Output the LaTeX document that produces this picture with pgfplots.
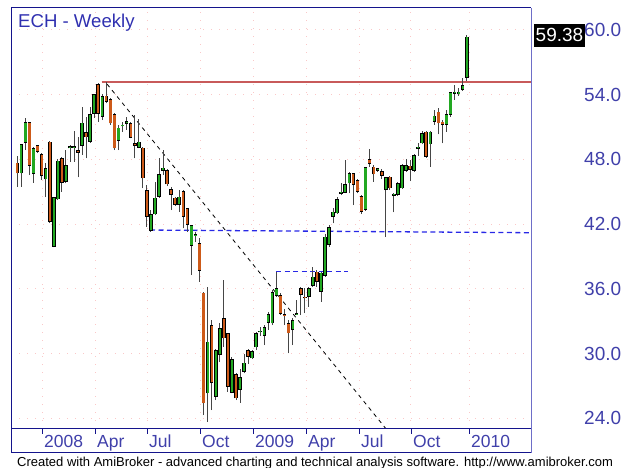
\documentclass[border=0pt]{standalone}
\usepackage{pgfplots}
\pgfplotsset{compat=1.18}
\usepackage{pgfplotstable}
\usepackage{fontspec}
\setmainfont{Liberation Sans}

\definecolor{navy}{RGB}{20,20,140}
\definecolor{lightframe}{RGB}{110,110,200}
\definecolor{labblue}{RGB}{64,64,170}
\definecolor{titleblue}{RGB}{48,48,176}
\definecolor{gridpink}{RGB}{250,200,200}
\definecolor{cgreen}{RGB}{34,168,34}
\definecolor{corange}{RGB}{205,90,25}
\definecolor{wickgray}{RGB}{70,70,70}
\definecolor{redline}{RGB}{200,90,90}
\definecolor{dashblue}{RGB}{40,40,230}

% weekly candles: k = bar index, open high low close
\pgfplotstableread{
k o h l c
2 46.71 49.43 45.46 49.43
3 49.55 51.84 48.87 51.44
5 46.64 49.18 45.84 49.03
8 46.15 47.66 44.51 47.17
10 39.90 44.54 39.84 44.48
11 44.30 48.03 44.23 47.88
13 45.93 48.87 45.78 47.48
14 49.03 49.33 47.78 49.24
15 49.06 50.66 47.78 49.20
17 49.24 52.88 48.41 51.40
19 49.64 52.88 49.55 52.21
20 52.21 54.06 51.84 54.06
22 51.96 54.06 51.65 53.88
26 49.70 51.19 48.87 50.94
27 51.07 51.49 50.57 51.22
28 51.28 51.96 50.73 51.56
31 49.08 51.72 49.03 49.64
34 41.36 43.30 41.29 42.90
35 42.90 45.87 42.84 44.44
36 44.54 48.10 44.44 46.61
37 46.92 48.87 46.55 47.23
41 43.77 45.16 43.15 44.54
44 39.99 41.91 37.27 41.91
45 40.91 41.29 40.36 41.06
48 26.30 36.19 23.67 31.09
50 25.96 30.41 25.68 30.32
51 29.85 32.82 29.20 32.36
54 26.36 29.67 26.30 29.45
56 26.61 28.53 25.43 27.84
57 28.30 29.95 28.15 29.14
59 29.55 30.32 29.48 30.25
60 30.57 32.01 30.32 31.87
61 31.96 32.48 31.62 32.11
62 31.62 32.63 30.78 32.42
63 32.85 33.87 32.17 33.66
64 32.79 35.88 32.63 35.72
65 35.33 37.58 35.26 36.09
69 32.17 33.28 30.78 33.10
70 33.60 34.95 33.56 33.75
73 35.26 36.19 34.33 36.09
74 36.25 38.02 36.19 37.12
76 35.72 37.58 34.80 37.49
77 37.18 41.08 37.12 40.83
78 40.06 41.91 39.90 41.70
79 42.68 43.46 42.07 43.15
80 43.00 44.54 42.93 44.30
81 44.79 45.81 44.69 45.00
82 44.91 47.94 44.85 45.72
83 45.78 46.86 44.85 46.71
87 43.30 47.32 43.24 47.26
90 46.95 47.23 46.86 47.17
92 45.16 46.39 40.80 46.36
94 44.60 44.88 43.09 44.81
95 44.69 45.87 44.63 45.78
96 45.32 47.54 45.25 47.48
97 46.95 48.03 46.86 47.48
99 46.95 48.47 46.86 48.41
100 48.96 49.49 48.34 49.18
101 49.49 50.63 49.40 50.42
103 49.40 50.63 47.32 50.57
104 51.49 52.58 51.19 52.05
107 51.19 52.58 50.57 52.18
108 52.12 54.28 51.96 54.22
109 54.06 54.90 53.51 54.28
110 54.04 54.59 53.88 54.28
111 54.43 55.58 54.37 54.90
112 55.58 59.55 55.27 59.38
}\up

\pgfplotstableread{
k o h l c
1 47.69 48.31 45.46 46.71
4 51.44 51.49 46.55 47.39
6 49.30 49.33 48.59 48.71
7 48.50 48.59 46.09 46.46
9 49.64 49.70 42.10 42.22
12 48.10 48.22 45.00 45.84
16 48.87 50.10 46.34 48.62
18 50.54 51.96 48.10 50.05
21 54.99 55.06 51.49 52.21
23 53.91 55.15 53.20 53.35
24 53.60 53.72 51.19 51.35
25 52.18 52.30 48.87 49.03
29 51.35 51.49 49.95 50.01
30 49.52 52.12 48.10 49.24
32 49.08 49.18 45.32 46.24
33 45.16 45.62 41.75 42.68
38 47.01 47.11 45.53 45.69
39 45.25 45.47 43.30 44.69
40 44.44 44.54 43.70 43.77
42 45.07 45.16 41.61 42.68
43 43.46 43.52 41.29 41.91
46 40.21 40.71 36.65 37.67
47 35.63 35.72 24.29 25.37
49 32.63 33.10 24.75 27.26
52 33.31 36.81 30.62 31.40
53 31.87 31.92 26.45 26.91
55 28.09 28.18 25.68 25.84
58 30.32 30.38 29.02 29.69
66 35.42 35.60 33.56 33.66
67 33.66 34.12 32.63 33.47
68 32.79 33.10 30.01 31.87
71 36.04 36.19 33.56 35.42
72 35.26 36.07 33.75 35.11
75 37.58 37.74 36.19 36.65
84 46.71 46.76 43.77 45.62
85 46.09 46.15 44.85 45.00
86 44.60 44.69 42.93 43.15
88 48.01 48.93 47.32 47.57
89 47.32 47.48 45.93 46.61
91 46.92 47.08 46.18 46.48
93 46.39 46.48 45.16 45.32
98 47.41 47.94 45.99 47.01
102 50.57 50.63 48.13 48.25
105 52.42 52.74 50.33 51.35
106 51.49 51.65 49.49 51.19
}\down

\pgfplotsset{
  wick/.style={draw=none, no markers, forget plot,
    error bars/.cd, y dir=plus, y explicit, error mark=none,
    error bar style={draw=wickgray, solid, line width=0.9pt}},
  bodyedge/.style={draw=none, no markers, forget plot,
    error bars/.cd, y dir=plus, y explicit, error mark=none,
    error bar style={draw=black, solid, line width=3.6pt}},
  bodyfill/.style={draw=none, no markers, forget plot,
    error bars/.cd, y dir=plus, y explicit, error mark=none,
    error bar style={draw=#1, solid, line width=2.2pt, shorten <=0.7pt, shorten >=0.7pt}},
}

\begin{document}
\begin{tikzpicture}
\path[use as bounding box] (-11pt,-39pt) rectangle (619pt,429pt);
\begin{axis}[
  at={(0pt,0pt)}, anchor=south west,
  scale only axis, width=520pt, height=421pt,
  xmin=-0.56, xmax=127.87, ymin=23.0, ymax=62.04,
  axis line style={draw=none},
  xtick={7.1,20.19,33.03,46.12,59.21,72.30,85.39,98.23,112.56},
  xticklabels={2008,Apr,Jul,Oct,2009,Apr,Jul,Oct,2010},
  xtick pos=left,
  ytick={24,30,...,60},
  yticklabel pos=right,
  tick align=outside,
  major tick length=5pt,
  xtick style={draw=navy, line width=0.8pt},
  ytick style={draw=none},
  grid=major,
  major grid style={draw=gridpink, line width=1pt, dash pattern=on 1pt off 7pt},
  xticklabel style={anchor=north west, inner sep=0pt, xshift=2pt, yshift=-1pt,
    font=\fontsize{17.5}{17.5}\selectfont, text=labblue},
  yticklabel style={anchor=west, inner sep=0pt, xshift=48pt,
    font=\fontsize{19}{19}\selectfont, text=labblue,
    /pgf/number format/fixed, /pgf/number format/fixed zerofill,
    /pgf/number format/precision=1},
  /pgf/number format/assume math mode=true,
]
% trend and level lines
\addplot[draw=redline, line width=1.6pt, no markers, forget plot] coordinates {(21.8,55.2) (127.87,55.2)};
\addplot[draw=dashblue, line width=1.3pt, dash pattern=on 5pt off 3.5pt, no markers, forget plot] coordinates {(33.77,41.45) (127.87,41.2)};
\addplot[draw=dashblue, line width=1.3pt, dash pattern=on 5pt off 3.5pt, no markers, forget plot] coordinates {(64.9,37.58) (82.67,37.58)};
\addplot[draw=black, line width=0.8pt, dash pattern=on 4pt off 4pt, no markers, forget plot] coordinates {(23.15,54.99) (92.1,23.0)};

% wicks
\addplot[wick] table[x=k, y=l, y error plus expr={\thisrow{h}-\thisrow{l}}] {\up};
\addplot[wick] table[x=k, y=l, y error plus expr={\thisrow{h}-\thisrow{l}}] {\down};
% bodies
\addplot[bodyedge] table[x=k, y expr={min(\thisrow{o},\thisrow{c})}, y error plus expr={abs(\thisrow{c}-\thisrow{o})}] {\up};
\addplot[bodyfill=cgreen] table[x=k, y expr={min(\thisrow{o},\thisrow{c})}, y error plus expr={abs(\thisrow{c}-\thisrow{o})}] {\up};
\addplot[bodyedge] table[x=k, y expr={min(\thisrow{o},\thisrow{c})}, y error plus expr={abs(\thisrow{c}-\thisrow{o})}] {\down};
\addplot[bodyfill=corange] table[x=k, y expr={min(\thisrow{o},\thisrow{c})}, y error plus expr={abs(\thisrow{c}-\thisrow{o})}] {\down};

\coordinate (lastp) at (axis cs:127.87,59.38);
\end{axis}

% frame and date strip
\draw[navy, line width=1pt] (0pt,-24pt) -- (0pt,421pt) -- (520pt,421pt);
\draw[lightframe, line width=1pt] (520pt,421pt) -- (520pt,-24pt);
\draw[navy, line width=1pt] (0pt,0pt) -- (520pt,0pt);
\draw[navy, line width=1pt] (0pt,-24pt) -- (520pt,-24pt);

\node[fill=black, text=white, anchor=west, inner sep=2pt, minimum height=23pt,
  font=\fontsize{19}{19}\selectfont] at ([xshift=2.5pt,yshift=1.5pt]lastp) {59.38};

\node[anchor=base west, inner sep=0pt, text=titleblue,
  font=\fontsize{18.6}{18.6}\selectfont] at (7pt,401pt) {ECH - Weekly};

\node[anchor=base west, inner sep=0pt, font=\fontsize{13}{13}\selectfont]
  at (6pt,-37.5pt) {Created with AmiBroker - advanced charting and technical analysis software. http://www.amibroker.com};
\end{tikzpicture}
\end{document}
